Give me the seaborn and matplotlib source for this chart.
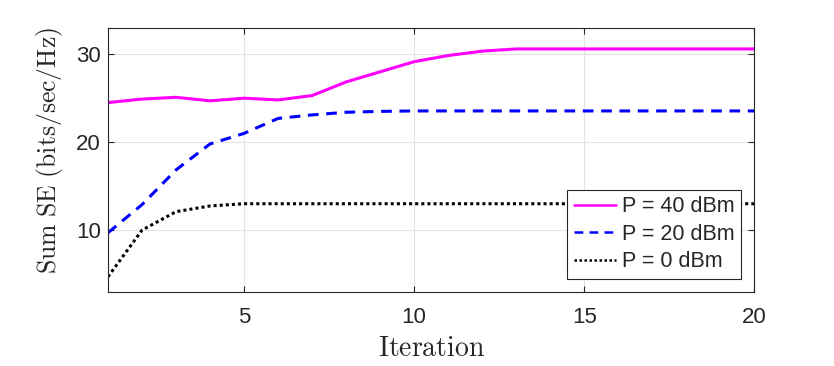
import pandas as pd
import matplotlib
matplotlib.use('Agg')
import matplotlib.pyplot as plt
import seaborn as sns

# data
iterations = list(range(1, 21))
se_40dbm = [24.5, 24.9, 25.1, 24.7, 25.0, 24.8, 25.3, 26.85, 28.0, 29.15,
            29.85, 30.35, 30.6, 30.6, 30.6, 30.6, 30.6, 30.6, 30.6, 30.6]
se_20dbm = [9.7, 12.9, 16.85, 19.8, 21.0, 22.7, 23.1, 23.4, 23.5, 23.55,
            23.55, 23.55, 23.55, 23.55, 23.55, 23.55, 23.55, 23.55, 23.55, 23.55]
se_0dbm = [4.7, 10.0, 12.1, 12.75, 13.0, 13.0, 13.0, 13.0, 13.0, 13.0,
           13.0, 13.0, 13.0, 13.0, 13.0, 13.0, 13.0, 13.0, 13.0, 13.0]
labels = ['P = 40 dBm', 'P = 20 dBm', 'P = 0 dBm']

sns.set_style('white')
plt.rcParams['font.family'] = ['Liberation Sans', 'DejaVu Sans']
plt.rcParams['mathtext.fontset'] = 'cm'

fig = plt.figure(figsize=(8.34, 3.66), dpi=100)
ax = fig.add_axes([0.1295, 0.203, 0.775, 0.721])

styles = [('#ff00ff', '-', 2.2), ('#0000ff', (0, (3.5, 2.5)), 2.2), ('#000000', (0, (1, 1)), 2.2)]
for vals, lab, (col, ls, lw) in zip([se_40dbm, se_20dbm, se_0dbm], labels, styles):
    df = pd.DataFrame({'Iteration': iterations, 'SE': vals})
    sns.lineplot(data=df, x='Iteration', y='SE', ax=ax, color=col, linestyle=ls,
                 linewidth=lw, label=lab)

ax.set_xlim(1, 20)
ax.set_ylim(3, 33)
ax.set_xticks([5, 10, 15, 20])
ax.set_yticks([10, 20, 30])
ax.grid(True, color='#e3e3e3', linewidth=0.8)
ax.tick_params(direction='in', length=4, labelsize=16, colors='#262626',
               top=True, right=True, bottom=True, left=True, pad=5)
ax.tick_params(axis='x', pad=11)
for s in ax.spines.values():
    s.set_color('#262626')
    s.set_linewidth(0.8)
ax.set_xlabel(r'$\mathrm{Iteration}$', fontsize=20, labelpad=6)
ax.set_ylabel(r'$\mathrm{Sum\ SE\ (bits/sec/Hz)}$', fontsize=18.5)
ax.yaxis.set_label_coords(-0.067, 0.535)

leg = ax.legend(loc='lower right', fontsize=15.5, frameon=True, fancybox=False,
                framealpha=1, handlelength=1.95, handletextpad=0.3, borderpad=0.3,
                labelspacing=0.3, borderaxespad=0.6)
leg.get_frame().set_edgecolor('#262626')
leg.get_frame().set_linewidth(0.8)
leg.set_zorder(10)
for h in leg.get_lines():
    h.set_linewidth(1.8)

fig.savefig('out.png', dpi=100)
